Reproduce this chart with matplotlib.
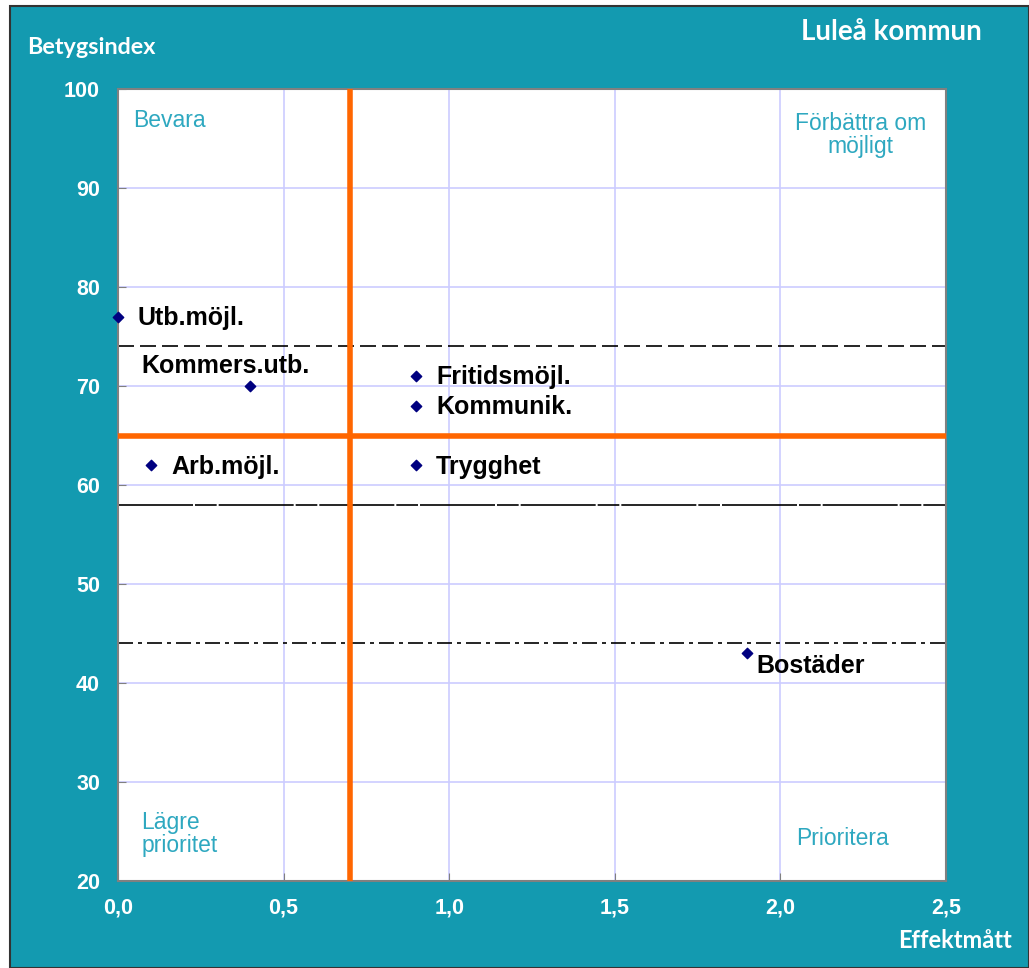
import matplotlib.pyplot as plt
from matplotlib.patches import Rectangle

# data
labels = ["Utb.möjl.", "Kommers.utb.", "Arb.möjl.", "Fritidsmöjl.", "Kommunik.", "Trygghet", "Bostäder"]
effekt = [0.0, 0.4, 0.1, 0.9, 0.9, 0.9, 1.9]
betyg = [77, 70, 62, 71, 68, 62, 43]
label_offsets = [(13.7, -1), (-78.5, 14.4), (14.4, -1), (14.4, -1), (14.4, -1), (14.4, -1), (6.5, -9.4)]

x_ticks = [0.0, 0.5, 1.0, 1.5, 2.0, 2.5]
x_ticklabels = ["0,0", "0,5", "1,0", "1,5", "2,0", "2,5"]
y_ticks = [20, 30, 40, 50, 60, 70, 80, 90, 100]

orange_x = 0.7
orange_y = 65
ref_dashed = 74
ref_solid = 58
ref_dashdot = 44

teal = "#139AB0"
quad_color = "#2EA8C0"

fig = plt.figure(figsize=(10.29, 9.68), dpi=100, facecolor="white")
fig.patches.append(Rectangle((10 / 1029, 0), 1 - 10 / 1029, 1 - 6 / 968,
                             transform=fig.transFigure, facecolor=teal,
                             edgecolor="#333333", linewidth=1.5, zorder=-10))

ax = fig.add_axes([118 / 1029, 1 - 881 / 968, (946 - 118) / 1029, (881 - 89) / 968])
ax.set_zorder(1)
ax.set_facecolor("white")
ax.set_xlim(0, 2.5)
ax.set_ylim(20, 100)

ax.set_xticks(x_ticks)
ax.set_xticklabels(x_ticklabels)
ax.set_yticks(y_ticks)
ax.tick_params(direction="in", length=6, color="#808080", labelcolor="white")
ax.tick_params(axis="y", pad=13)
ax.tick_params(axis="x", pad=12)
for lbl in ax.get_xticklabels() + ax.get_yticklabels():
    lbl.set_fontfamily("Liberation Sans")
    lbl.set_fontweight("bold")
    lbl.set_fontsize(15.5)
ax.grid(True, color="#CCCCFF", linewidth=1.2, zorder=1)
ax.set_axisbelow(True)
for sp in ax.spines.values():
    sp.set_color("#808080")
    sp.set_linewidth(1.5)

# reference lines
ax.axhline(ref_dashed, color="black", linewidth=1.2, linestyle=(0, (9.6, 3.6)), zorder=2)
ax.axhline(ref_solid, color="black", linewidth=1.2, linestyle=(0, (45, 1.2, 13, 1.2)), zorder=2)
ax.axhline(ref_dashdot, color="black", linewidth=1.2, linestyle=(0, (9, 3, 2.4, 3)), zorder=2)
ax.axvline(orange_x, color="#FF6600", linewidth=4, zorder=3)
ax.axhline(orange_y, color="#FF6600", linewidth=4, zorder=3)

# points
ax.scatter(effekt, betyg, marker="D", s=28, color="#000080", zorder=5, clip_on=False)
for lab, x, y, off in zip(labels, effekt, betyg, label_offsets):
    ax.annotate(lab, (x, y), xytext=off, textcoords="offset points", va="center",
                ha="left", fontsize=18, fontweight="bold", family="Liberation Sans",
                color="black", zorder=6)

# quadrant labels
qfont = dict(fontsize=16.5, color=quad_color, family="Liberation Sans")
ax.text(0.045, 96.8, "Bevara", ha="left", va="center", **qfont)
ax.text(2.44, 95.4, "Förbättra om\nmöjligt", ha="right", va="center", linespacing=1.0,
        multialignment="center", **qfont)
ax.text(0.07, 24.75, "Lägre\nprioritet", ha="left", va="center", linespacing=1.0, **qfont)
ax.text(2.186, 24.3, "Prioritera", ha="center", va="center", **qfont)

# outer titles
tfont = dict(color="white", fontweight="bold", family="Lato")
fig.text(27 / 1029, 1 - 48 / 968, "Betygsindex", ha="left", va="center", fontsize=16.8, **tfont)
fig.text(982 / 1029, 1 - 32 / 968, "Luleå kommun", ha="right", va="center", fontsize=20, **tfont)
fig.text(1012 / 1029, 1 - 941 / 968, "Effektmått", ha="right", va="center", fontsize=17, **tfont)

fig.savefig("out.png", dpi=100, facecolor=fig.get_facecolor())
